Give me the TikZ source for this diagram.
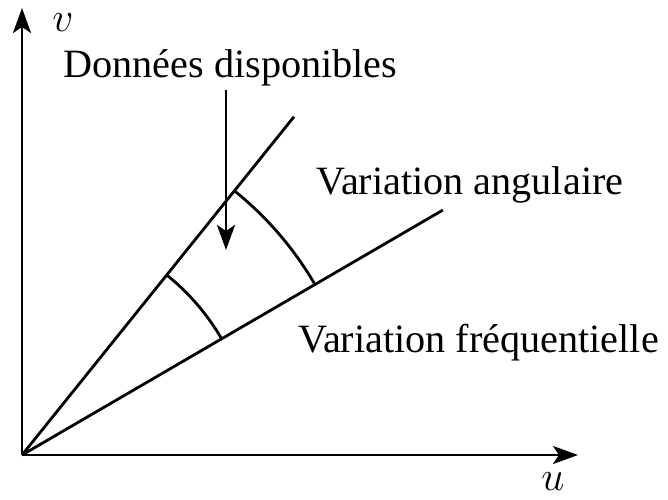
\documentclass[tikz,border=0pt]{standalone}
\usepackage{fontspec}
\setmainfont{Liberation Serif}
\usetikzlibrary{arrows.meta,positioning,calc}

\begin{document}
\begin{tikzpicture}[
    x=0.5pt, y=0.5pt,
    font=\fontsize{20.1}{24}\selectfont,
    line width=1.4pt,
    lbl/.style={inner sep=0pt, anchor=base west},
    arrow/.style={-{Stealth[length=12.5pt, width=9pt, inset=3pt]}}
  ]
    \useasboundingbox (0,0) rectangle (668,499);

    % axes
    \coordinate (O) at (22,44);
    \coordinate (utip) at (578,44);
    \coordinate (vtip) at (22,491);
    \draw[arrow] (O) -- (utip);
    \draw[arrow] (O) -- (vtip);
    \node (ulab) at (553,17) {$u$};
    \node (vlab) at (63,476) {$v$};

    % sector of available data
    \coordinate (upend) at ($(O)+(51.2:434)$);
    \coordinate (lowend) at ($(O)+(30.2:487)$);
    \draw (O) -- (upend);
    \draw (O) -- (lowend);
    \draw (O) ++(51.2:231) arc[start angle=51.2, end angle=30.2, radius=231];
    \draw (O) ++(51.2:339) arc[start angle=51.2, end angle=30.2, radius=339];

    % labels
    \node[lbl] (avail) at (62,422) {Données disponibles};
    \node[lbl] (angvar) at (315,305) {Variation angulaire};
    \node[lbl] (freqvar) at (297,147) {Variation fréquentielle};

    \coordinate (tip) at (226,249);
    \draw[arrow] ($(tip |- avail.south)+(0,-3)$) -- (tip);
  \end{tikzpicture}
\end{document}
